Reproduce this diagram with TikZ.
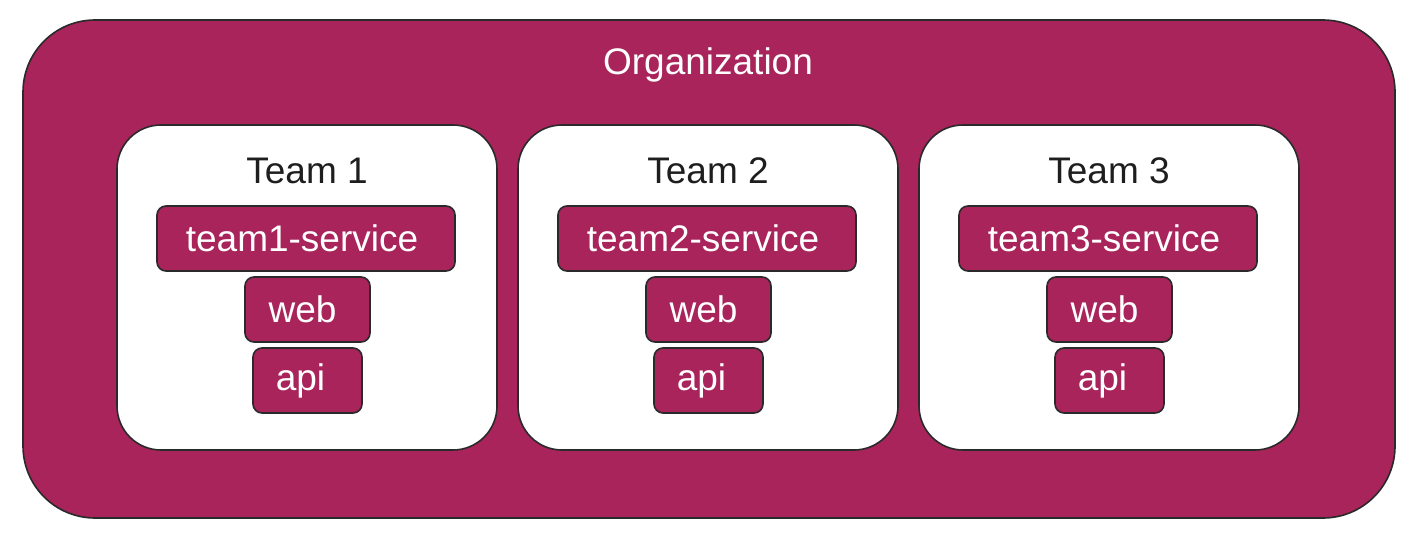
\documentclass[tikz,border=0pt]{standalone}
\usepackage{fontspec}
\setmainfont{Liberation Sans}
\definecolor{org}{HTML}{A8245B}
\definecolor{edge}{HTML}{2A2A2A}
\definecolor{ink}{HTML}{1E1E1E}
\begin{document}
\begin{tikzpicture}[x=0.5pt,y=-0.5pt,
  orgbox/.style={draw=edge, line width=0.8pt, fill=org, rounded corners=36pt},
  teambox/.style={draw=edge, line width=0.8pt, fill=white, rounded corners=22pt},
  svc/.style={draw=edge, line width=0.8pt, fill=org, rounded corners=4.5pt, text=white, font=\fontsize{18.5}{20}\selectfont, inner sep=0pt},
  titletext/.style={font=\fontsize{18.5}{20}\selectfont, text=ink},
  orgtext/.style={font=\fontsize{18.5}{20}\selectfont, text=white}]
\useasboundingbox (0,0) rectangle (1412,540);
\draw[orgbox] (23,20) rectangle (1395,518);
\node[orgtext] (org) at (708,65) {Organization};
\foreach \i/\dx in {1/0,2/401,3/802}{
  \begin{scope}[xshift=\dx*0.5pt]
  \draw[teambox] (117,125) rectangle (497,450);
  \node[titletext] (team\i) at (307,171) {Team \i};
  \node[svc, minimum width=149pt, minimum height=32.5pt] (svc\i) at (306,238.5) {\hspace*{-4pt}\raisebox{-1.2pt}{team\i-service}};
  \node[svc, minimum width=62.5pt, minimum height=32.5pt] (web\i) at (307.5,309.5) {\hspace*{-5pt}\raisebox{-1.2pt}{web}};
  \node[svc, minimum width=54.5pt, minimum height=32.5pt] (api\i) at (307.5,380.5) {\hspace*{-7pt}\raisebox{-1.2pt}{api}};
  \end{scope}
}
\end{tikzpicture}
\end{document}
